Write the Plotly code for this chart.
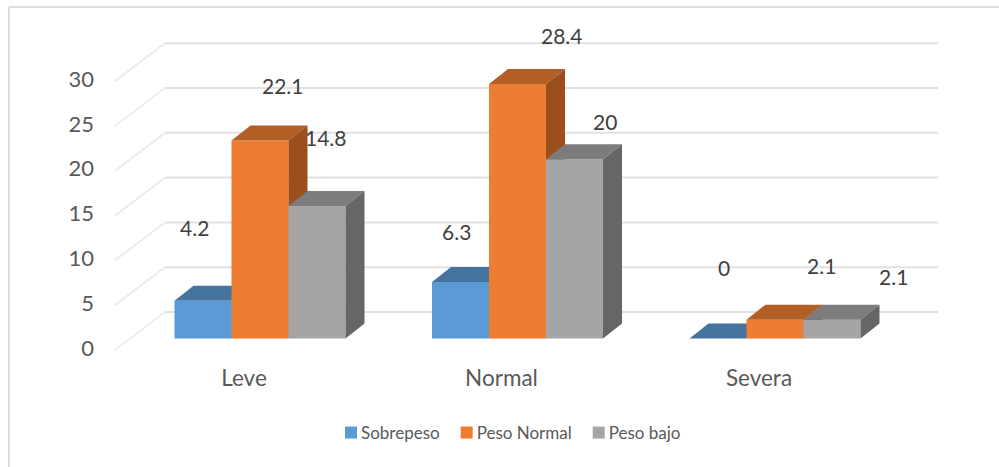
import plotly.graph_objects as go

categories = ["Leve", "Normal", "Severa"]
series_names = ["Sobrepeso", "Peso Normal", "Peso bajo"]
sobrepeso = [4.2, 6.3, 0]
peso_normal = [22.1, 28.4, 2.1]
peso_bajo = [14.8, 20, 2.1]
y_ticks = [0, 5, 10, 15, 20, 25, 30]

series_values = [sobrepeso, peso_normal, peso_bajo]
front = ["#5B9BD5", "#ED7D31", "#A5A5A5"]
top = ["#44749F", "#B35E24", "#7C7C7C"]
side = ["#3E6A91", "#9A4F1C", "#666666"]
# pixel nudges of the data labels relative to each bar's top centre
label_dx = [[-9, -4, 6], [23, 44, 46], [9, 30, 61]]
label_dy = [[-73, -51, -71], [-55, -49, -54], [-68, -38, -43]]

W, H = 999, 467
PX_X = 257.5      # pixels per category
PX_Y = 8.96       # pixels per value unit
X0 = 260          # pixel of first category
Y0 = 338.5        # pixel of value 0 at bar front
xrange = [-X0 / PX_X, (W - X0) / PX_X]
yrange = [-(H - Y0) / PX_Y, Y0 / PX_Y]
bar_w = 57 / PX_X
depth_x = 19 / PX_X
depth_y = 15 / PX_Y

fig = go.Figure()

# walls
back_x0, back_x1 = (165 - X0) / PX_X, (938 - X0) / PX_X
back_dy = (338.5 - 312) / PX_Y
front_x0 = (115 - X0) / PX_X
front_dy = (338.5 - 350) / PX_Y
for v in y_ticks:
    fig.add_trace(go.Scatter(x=[back_x0, back_x1], y=[v + back_dy] * 2, mode="lines",
                             line=dict(color="#E2E2E2", width=2), showlegend=False, hoverinfo="skip"))
    fig.add_trace(go.Scatter(x=[front_x0, back_x0], y=[v + front_dy, v + back_dy], mode="lines",
                             line=dict(color="#E8E8E8", width=1.5), showlegend=False, hoverinfo="skip"))

# y tick labels
fig.add_trace(go.Scatter(x=[(94 - X0) / PX_X] * len(y_ticks), y=[v - 1.3 for v in y_ticks],
                         mode="text", text=[str(v) for v in y_ticks], textposition="middle left",
                         textfont=dict(family="Lato", size=22, color="#595959"),
                         showlegend=False, hoverinfo="skip"))
# category labels
fig.add_trace(go.Scatter(x=[i - 16 / PX_X for i in range(3)], y=[-(380 - Y0) / PX_Y] * 3,
                         mode="text", text=categories, textposition="middle center",
                         textfont=dict(family="Lato", size=22.5, color="#595959"),
                         showlegend=False, hoverinfo="skip"))

layout_axes = {}
for s, (name, vals) in enumerate(zip(series_names, series_values)):
    n = s + 2
    xa, ya = f"x{n}", f"y{n}"
    off = (s - 1) * bar_w
    xs = [i + off for i in range(3)]
    fig.add_trace(go.Bar(x=xs, y=vals, width=bar_w, name=name, marker=dict(color=front[s], line_width=0),
                         xaxis=xa, yaxis=ya, legendgroup=name))
    for x, v in zip(xs, vals):
        l, r = x - bar_w / 2, x + bar_w / 2
        fig.add_trace(go.Scatter(x=[l, r, r + depth_x, l + depth_x, l], y=[v, v, v + depth_y, v + depth_y, v],
                                 mode="lines", fill="toself", fillcolor=top[s], line=dict(width=0),
                                 xaxis=xa, yaxis=ya, showlegend=False, hoverinfo="skip"))
        fig.add_trace(go.Scatter(x=[r, r + depth_x, r + depth_x, r, r], y=[0, depth_y, v + depth_y, v, 0],
                                 mode="lines", fill="toself", fillcolor=side[s], line=dict(width=0),
                                 xaxis=xa, yaxis=ya, showlegend=False, hoverinfo="skip"))
    layout_axes[f"xaxis{n}"] = dict(range=xrange, visible=False, overlaying="x", fixedrange=True)
    layout_axes[f"yaxis{n}"] = dict(range=yrange, visible=False, overlaying="y", fixedrange=True)

annotations = []
for s, vals in enumerate(series_values):
    off = (s - 1) * bar_w
    for i, v in enumerate(vals):
        annotations.append(dict(x=i + off, y=v, text=str(v), showarrow=False, xref="x", yref="y",
                                xshift=label_dx[s][i], yshift=-label_dy[s][i],
                                font=dict(family="Lato", size=21, color="#404040")))

fig.update_layout(
    width=W, height=H, margin=dict(l=0, r=0, t=0, b=0), autosize=False,
    paper_bgcolor="white", plot_bgcolor="rgba(0,0,0,0)",
    xaxis=dict(range=xrange, visible=False, fixedrange=True),
    yaxis=dict(range=yrange, visible=False, fixedrange=True),
    barmode="overlay",
    annotations=annotations,
    legend=dict(orientation="h", x=0.5 + 8 / W, xanchor="center", y=(H - 433) / H, yanchor="middle",
                indentation=-8,
                font=dict(family="Lato", size=17, color="#595959"), bgcolor="rgba(0,0,0,0)"),
    shapes=[dict(type="line", xref="paper", yref="paper", x0=9 / W, x1=9 / W, y0=0, y1=1 - 7 / H,
                 line=dict(color="#DDDDDD", width=2), layer="below"),
            dict(type="line", xref="paper", yref="paper", x0=9 / W, x1=1, y0=1 - 7 / H, y1=1 - 7 / H,
                 line=dict(color="#DDDDDD", width=2), layer="below")],
    **layout_axes,
)
post = """
document.body.style.margin='0';document.documentElement.style.overflow='hidden';
function nudgeLegend(){document.querySelectorAll('g.legendsymbols').forEach(function(e){e.setAttribute('transform','translate(10,0)');});}
nudgeLegend();setTimeout(nudgeLegend,0);
var gd=document.getElementById('{plot_id}');if(gd&&gd.on){gd.on('plotly_afterplot',nudgeLegend);}
"""
fig.write_html("out.html", config={"displayModeBar": False}, post_script=post)
